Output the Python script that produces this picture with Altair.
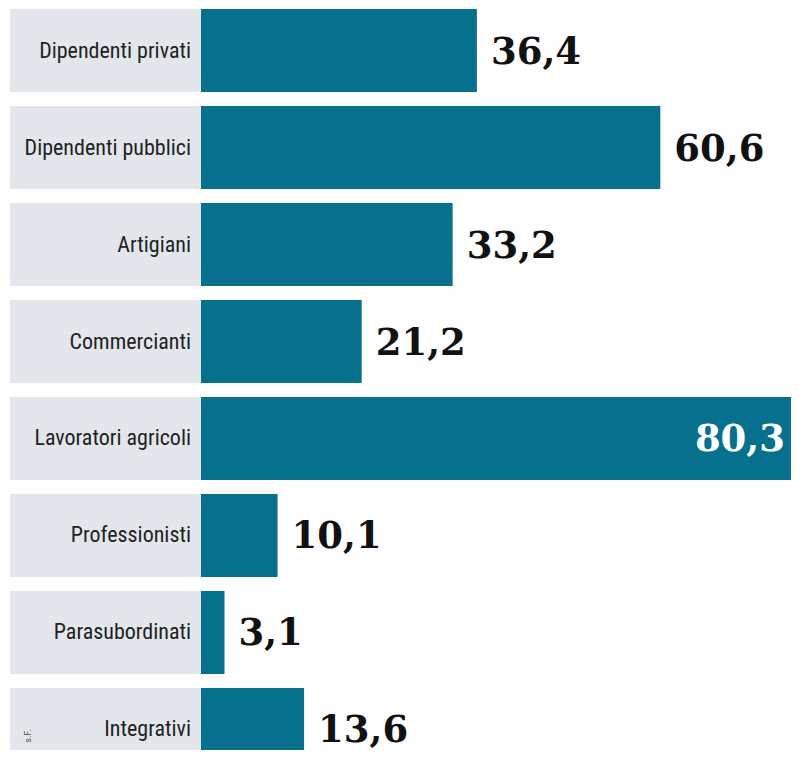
import altair as alt
import pandas as pd

categories = ["Dipendenti privati", "Dipendenti pubblici", "Artigiani", "Commercianti",
              "Lavoratori agricoli", "Professionisti", "Parasubordinati", "Integrativi"]
values = [36.4, 60.6, 33.2, 21.2, 80.3, 10.1, 3.1, 13.6]
labels = ["36,4", "60,6", "33,2", "21,2", "80,3", "10,1", "3,1", "13,6"]
source_note = ["s.F."]

X_MAX = 77.84  # visible part of the axis; longer bars run off the right edge

df = pd.DataFrame({"cat": categories, "val": values, "lab": labels})
df["inside"] = df["val"] > X_MAX

TEAL = "#07708d"
GREY = "#e3e7eb"

yenc = alt.Y("cat:N", sort=categories, axis=None,
             scale=alt.Scale(domain=categories, range=[1, 763], paddingInner=0.144, paddingOuter=0))
xscale = alt.Scale(domain=[0, X_MAX], range=[193, 783], clamp=True)

base = alt.Chart(df)

boxes = base.mark_rect(color=GREY).encode(
    y=yenc, x=alt.value(2), x2=alt.value(193)
)

bars = base.mark_bar(color=TEAL, cornerRadius=0).encode(
    y=yenc,
    x=alt.X("val:Q", scale=xscale, axis=None),
    x2=alt.value(193),
)

cat_text = base.mark_text(align="right", baseline="middle", font="Liberation Sans Narrow, Roboto Condensed, Roboto",
                          fontSize=22, color="#222222").encode(
    y=yenc, x=alt.value(183), text="cat:N"
)

val_out = base.transform_filter("!datum.inside").mark_text(
    align="left", baseline="middle", dx=14, dy=2, font="DejaVu Serif", fontWeight="bold",
    fontSize=37, color="#111111").encode(
    y=yenc, x=alt.X("val:Q", scale=xscale), text="lab:N"
)

val_in = base.transform_filter("datum.inside").mark_text(
    align="right", baseline="middle", dx=-6, dy=2, font="DejaVu Serif", fontWeight="bold",
    fontSize=37, color="#ffffff").encode(
    y=yenc, x=alt.X("val:Q", scale=xscale), text="lab:N"
)

note = alt.Chart(pd.DataFrame({"t": source_note})).mark_text(
    angle=270, align="center", baseline="middle", fontSize=9, font="Roboto", color="#555555"
).encode(x=alt.value(20), y=alt.value(728), text="t:N")

chart = alt.layer(boxes, bars, cat_text, val_out, val_in, note).properties(
    width=783, height=742, padding=0, autosize=alt.AutoSizeParams(type="none")
).configure_view(stroke=None)

chart.save("out.html", embed_options={"renderer": "svg", "actions": False})
